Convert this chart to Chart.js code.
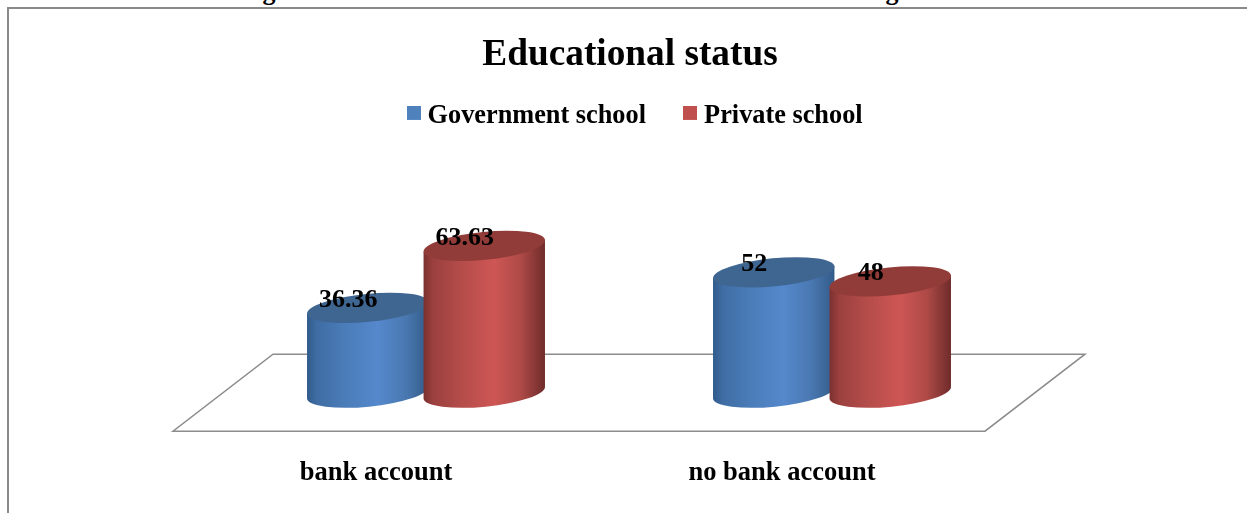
<!DOCTYPE html>
<html>
<head>
<meta charset="utf-8">
<title>Educational status</title>
<script src="https://cdn.jsdelivr.net/npm/chart.js@4/dist/chart.umd.min.js"></script>
<style>
  html, body { margin: 0; padding: 0; width: 1247px; height: 513px; overflow: hidden; background: #fff; }
  #caption {
    position: absolute; left: 0; top: -23px; width: 1251px; text-align: center; white-space: nowrap;
    font: bold 26px "Liberation Serif", serif; line-height: 30px; letter-spacing: 2.5px; color: #000;
  }
  #frame {
    position: absolute; left: 7px; top: 7px; width: 1300px; height: 600px;
    border-left: 2px solid #8a8a8a; border-top: 2px solid #8a8a8a;
  }
  #wrap { position: absolute; left: 0; top: 0; width: 1260px; height: 513px; }
</style>
</head>
<body>
<div id="caption">Figure 6.4: Education status and level of banking services</div>
<div id="frame"></div>
<div id="wrap"><canvas id="chart" width="1260" height="513"></canvas></div>
<script>
const categories = ['bank account', 'no bank account'];
const governmentValues = [36.36, 52];
const privateValues = [63.63, 48];
const seriesNames = ['Government school', 'Private school'];
const legendColors = ['#4f81bd', '#c0504d'];
const topColors = ['#3f6591', '#923c39'];
const bodyStops = [
  ['#2f5a8a', '#3f6ca3', '#4a7cb8', '#5588cc', '#4a79b2', '#335b88'],
  ['#7a302f', '#9b403e', '#b34c4a', '#ce5654', '#ae4a47', '#6e2b2a'],
];
const stopAt = [0, 0.08, 0.3, 0.58, 0.8, 1];

const SERIF = '"Liberation Serif", "Times New Roman", serif';
const DEPTH_X = 100;   // floor depth, front edge to back edge
const DEPTH_Y = 77;
const TILT = -5.6 * Math.PI / 180;
const CAP_RY = 14;
const CAP_LIFT = 2;    // top cap sits a little above the value line

// 14px square for the legend, drawn through a 1px wide point box so the text sits close to it.
// The canvas is taller than the square, which lifts it level with the text.
function swatch(color) {
  const c = document.createElement('canvas');
  c.width = 14;
  c.height = 20;
  const g = c.getContext('2d');
  g.fillStyle = color;
  g.fillRect(0, 0, 14, 14);
  return c;
}

function drawFloor(ctx, area) {
  ctx.save();
  ctx.strokeStyle = '#8c8c8c';
  ctx.lineWidth = 1.5;
  ctx.lineJoin = 'miter';
  ctx.beginPath();
  ctx.moveTo(area.left, area.bottom);
  ctx.lineTo(area.right, area.bottom);
  ctx.lineTo(area.right + DEPTH_X, area.bottom - DEPTH_Y);
  ctx.lineTo(area.left + DEPTH_X, area.bottom - DEPTH_Y);
  ctx.closePath();
  ctx.stroke();
  ctx.restore();
}

// one cylinder from a bar element: it stands halfway back on the floor
function drawCylinder(ctx, bar, ds) {
  const cx = bar.x + DEPTH_X / 2;
  const rx = bar.width / 2;
  const baseY = bar.base - DEPTH_Y / 2;
  const topY = bar.y - DEPTH_Y / 2 - CAP_LIFT;
  const dx = rx * Math.cos(TILT);
  const dy = rx * Math.sin(TILT);

  const grad = ctx.createLinearGradient(cx - rx, 0, cx + rx, 0);
  stopAt.forEach((s, i) => grad.addColorStop(s, bodyStops[ds][i]));

  ctx.beginPath();
  ctx.moveTo(cx + dx, topY + dy);
  ctx.lineTo(cx + dx, baseY + dy);
  ctx.ellipse(cx, baseY, rx, CAP_RY, TILT, 0, Math.PI);
  ctx.lineTo(cx - dx, topY - dy);
  ctx.closePath();
  ctx.fillStyle = grad;
  ctx.fill();

  ctx.beginPath();
  ctx.ellipse(cx, topY, rx, CAP_RY, TILT, 0, Math.PI * 2);
  ctx.fillStyle = topColors[ds];
  ctx.fill();
}

const cylinderPlugin = {
  id: 'cylinders',
  afterLayout(chart) {
    chart.legend.left += 8;
    chart.legend.right += 8;
  },
  beforeDatasetsDraw(chart) {
    const ctx = chart.ctx;
    drawFloor(ctx, chart.chartArea);
    chart.data.datasets.forEach((d, ds) => {
      chart.getDatasetMeta(ds).data.forEach((bar) => drawCylinder(ctx, bar, ds));
    });
  },
  beforeDatasetDraw() {
    return false; // the flat bars are replaced by the cylinders above
  },
  afterDatasetsDraw(chart) {
    const ctx = chart.ctx;
    ctx.save();
    ctx.font = 'bold 26px ' + SERIF;
    ctx.fillStyle = '#000';
    ctx.textAlign = 'center';
    ctx.textBaseline = 'middle';
    chart.data.datasets.forEach((d, ds) => {
      chart.getDatasetMeta(ds).data.forEach((bar, i) => {
        ctx.fillText(String(d.data[i]), bar.x + DEPTH_X / 2 - 19.5, bar.y - DEPTH_Y / 2 - 10);
      });
    });
    ctx.restore();
  },
};

new Chart(document.getElementById('chart'), {
  type: 'bar',
  data: {
    labels: categories,
    datasets: [
      { label: seriesNames[0], data: governmentValues, backgroundColor: legendColors[0] },
      { label: seriesNames[1], data: privateValues, backgroundColor: legendColors[1] },
    ],
  },
  options: {
    responsive: false,
    animation: false,
    events: [],
    layout: { padding: { top: 33, bottom: 6 } },
    datasets: { bar: { categoryPercentage: 0.574, barPercentage: 1.047 } },
    scales: {
      x: {
        grid: { display: false },
        border: { display: false },
        ticks: { color: '#000', font: { family: SERIF, size: 26.5, weight: 'bold' }, padding: 18, maxRotation: 0 },
      },
      y: {
        min: 0,
        max: 128.3,
        grid: { display: false },
        border: { display: false },
        ticks: { display: false },
        afterFit(s) { s.width = 173; },
      },
      // empty right-hand axis: reserves the space behind the floor without moving title and legend
      yRight: {
        type: 'linear',
        position: 'right',
        grid: { display: false },
        border: { display: false },
        ticks: { display: false },
        afterFit(s) { s.width = 275; },
      },
    },
    plugins: {
      tooltip: { enabled: false },
      title: {
        display: true,
        text: 'Educational status',
        color: '#000',
        font: { family: SERIF, size: 37.3, weight: 'bold' },
        padding: { top: 0, bottom: -19 },
      },
      legend: {
        position: 'top',
        labels: {
          color: '#000',
          font: { family: SERIF, size: 26.3, weight: 'bold' },
          usePointStyle: true,
          pointStyleWidth: 1,
          padding: 44,
          generateLabels: (chart) => chart.data.datasets.map((d, i) => ({
            text: d.label,
            fontColor: '#000',
            pointStyle: swatch(legendColors[i]),
            datasetIndex: i,
          })),
        },
      },
    },
  },
  plugins: [cylinderPlugin],
});
</script>
</body>
</html>
